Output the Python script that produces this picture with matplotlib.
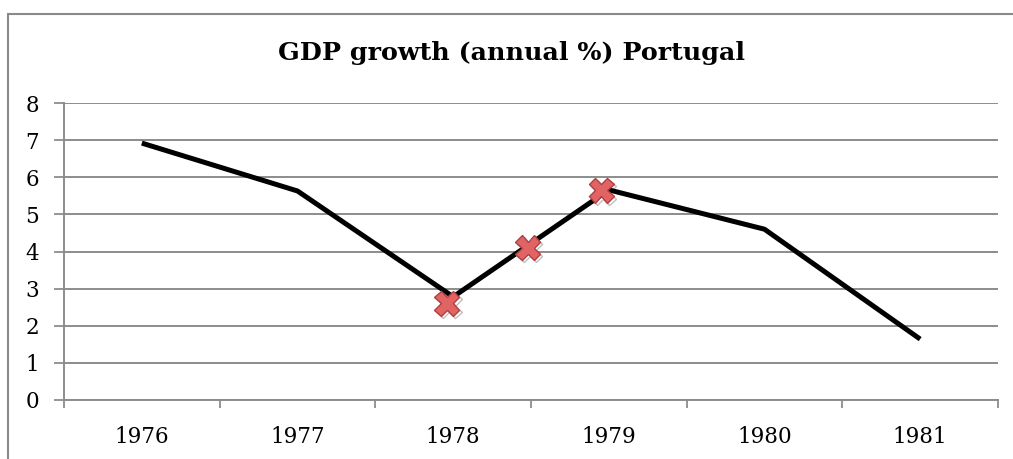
import matplotlib

matplotlib.use("Agg")
import matplotlib.pyplot as plt  # noqa: E402
import matplotlib.patheffects as pe  # noqa: E402
from matplotlib.patches import Rectangle  # noqa: E402

years = ["1976", "1977", "1978", "1979", "1980", "1981"]
growth = [6.92, 5.63, 2.78, 5.66, 4.6, 1.64]

# red crosses drawn over the line (x in category units)
mark_x = [1.96, 2.48, 2.95]
mark_y = [2.6, 4.1, 5.65]

title = "GDP growth (annual %) Portugal"
SERIF = ["DejaVu Serif"]
GRID = "#8c8c8c"

fig = plt.figure(figsize=(10.13, 4.59), dpi=100)
# outer chart frame (runs off the right and bottom edges)
fig.patches.append(Rectangle((8 / 1013, -0.1), 1.1, (459 - 14) / 459 + 0.1,
                             transform=fig.transFigure, fill=False,
                             edgecolor="#8a8a8a", linewidth=1.5))

ax = fig.add_axes([64 / 1013, 59 / 459, (998 - 64) / 1013, (400 - 103) / 459])
x = list(range(len(years)))
ax.plot(x, growth, color="black", linewidth=3.6, solid_capstyle="butt", zorder=3)
ax.plot(mark_x, mark_y, linestyle="none", marker="X", markersize=18,
        markerfacecolor="#e06464", markeredgecolor="#b04040", markeredgewidth=1.0,
        zorder=4, path_effects=[pe.SimpleLineShadow(offset=(1.5, -1.5), alpha=0.25), pe.Normal()])

ax.set_xlim(-0.5, len(years) - 0.5)
ax.set_ylim(0, 8)
ax.set_yticks(range(0, 9))
ax.set_xticks(x)
ax.set_xticklabels(years)
ax.set_xticks([i - 0.5 for i in range(len(years) + 1)], minor=True)
ax.tick_params(axis="x", which="major", length=0, pad=19)
ax.tick_params(axis="x", which="minor", length=6, width=1.3, color=GRID)
ax.tick_params(axis="y", length=7, width=1.3, color=GRID, pad=11)
for lab in ax.get_xticklabels() + ax.get_yticklabels():
    lab.set_family(SERIF)
    lab.set_fontsize(15.5)

ax.grid(axis="y", color=GRID, linewidth=1.4)
ax.set_axisbelow(True)
for side in ("top", "right"):
    ax.spines[side].set_visible(False)
for side in ("left", "bottom"):
    ax.spines[side].set_color(GRID)
    ax.spines[side].set_linewidth(1.4)

fig.text(512 / 1013, 1 - 53 / 459, title, ha="center", va="center",
         family=SERIF, fontsize=18.3, fontweight="bold")

fig.savefig("out.png", dpi=100)
